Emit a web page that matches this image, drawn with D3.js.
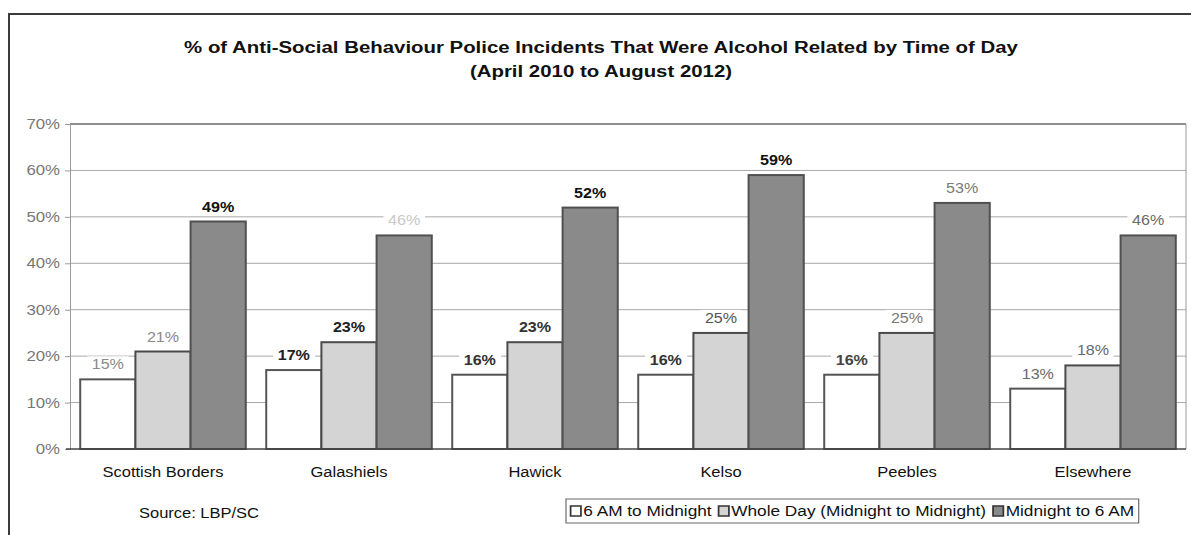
<!DOCTYPE html>
<html>
<head>
<meta charset="utf-8">
<script src="https://cdn.jsdelivr.net/npm/d3@7"></script>
<style>
    body { margin: 0; background: #ffffff; }
    svg { display: block; font-family: "Liberation Sans", Arial, sans-serif; }
</style>
</head>
<body>
<svg id="chart"></svg>
<script>
// values (percent)
const categories = ["Scottish Borders", "Galashiels", "Hawick", "Kelso", "Peebles", "Elsewhere"];
const seriesNames = ["6 AM to Midnight", "Whole Day (Midnight to Midnight)", "Midnight to 6 AM"];
const dayValues = [15, 17, 16, 16, 16, 13];
const wholeDayValues = [21, 23, 23, 25, 25, 18];
const nightValues = [49, 46, 52, 59, 53, 46];
const yTickValues = [0, 10, 20, 30, 40, 50, 60, 70];

const titleLines = [
    "% of Anti-Social Behaviour Police Incidents That Were Alcohol Related by Time of Day",
    "(April 2010 to August 2012)"
];
const sourceText = "Source: LBP/SC";

// styling
const width = 1191;
const height = 535;
const plot = { left: 70, right: 1186, top: 124, bottom: 449 };
const barFills = ["#ffffff", "#d4d4d4", "#8a8a8a"];
const barStrokes = ["#555555", "#4a4a4a", "#505050"];
// the scanned text is wider than the font, so it gets a horizontal stretch
const stretch = 1.15;
// the scanned labels come in different shades
const labelShades = [
    ["#8a8a8a", "#8a8a8a", "#111111"],
    ["#222222", "#222222", "#c8c8c8"],
    ["#333333", "#333333", "#111111"],
    ["#333333", "#555555", "#111111"],
    ["#444444", "#7a7a7a", "#7a7a7a"],
    ["#6a6a6a", "#6a6a6a", "#6a6a6a"]
];

const svg = d3.select("#chart")
    .attr("width", width)
    .attr("height", height);

const x = d3.scaleBand()
    .domain(categories)
    .range([plot.left, plot.right])
    .paddingInner(0.11)
    .paddingOuter(0.055);

const xInner = d3.scaleBand()
    .domain(d3.range(seriesNames.length))
    .range([0, x.bandwidth()]);

const y = d3.scaleLinear()
    .domain([0, 70])
    .range([plot.bottom, plot.top]);

const rows = categories.map((c, i) => ({
    category: c,
    values: [dayValues[i], wholeDayValues[i], nightValues[i]]
}));

function wideText(parent, px, py, sx) {
    return parent.append("text")
        .attr("transform", `translate(${px},${py}) scale(${sx},1)`);
}

// outer frame
svg.append("path")
    .attr("d", `M9,${height} L9,14 L${width},14`)
    .attr("fill", "none")
    .attr("stroke", "#3a3a3a")
    .attr("stroke-width", 2);

// title
titleLines.forEach((line, i) => {
    wideText(svg, 601, 53 + i * 24, 1.2)
        .attr("text-anchor", "middle")
        .style("font-size", "17px")
        .style("font-weight", "bold")
        .attr("fill", "#111")
        .text(line);
});

// gridlines
svg.append("g")
    .selectAll("line")
    .data(yTickValues.filter(v => v > 0))
    .enter()
    .append("line")
    .attr("x1", plot.left)
    .attr("x2", plot.right)
    .attr("y1", d => y(d))
    .attr("y2", d => y(d))
    .attr("stroke", d => d === 70 ? "#6a6a6a" : "#a8a8a8")
    .attr("stroke-width", d => d === 70 ? 1.5 : 1);

// plot right border
svg.append("line")
    .attr("x1", plot.right).attr("x2", plot.right)
    .attr("y1", plot.top).attr("y2", plot.bottom)
    .attr("stroke", "#9a9a9a");

// y axis
const yAxis = svg.append("g")
    .attr("transform", `translate(${plot.left},0)`)
    .call(d3.axisLeft(y)
        .tickValues(yTickValues)
        .tickFormat(d => d + "%")
        .tickSize(5)
        .tickPadding(9));

yAxis.select(".domain").attr("stroke", "#9a9a9a");
yAxis.selectAll(".tick line").attr("stroke", "#9a9a9a");
yAxis.selectAll(".tick text")
    .attr("x", -10 / 1.2)
    .attr("transform", "scale(1.2,1)")
    .attr("fill", "#777")
    .style("font-size", "14px")
    .style("font-family", "\"Liberation Sans\", Arial, sans-serif");

// bars
const groups = svg.append("g")
    .selectAll(".group")
    .data(rows)
    .enter()
    .append("g")
    .attr("class", "group")
    .attr("transform", d => `translate(${x(d.category)},0)`);

groups.selectAll("rect")
    .data(d => d.values)
    .enter()
    .append("rect")
    .attr("x", (d, i) => xInner(i))
    .attr("y", d => y(d))
    .attr("width", xInner.bandwidth())
    .attr("height", d => y(0) - y(d))
    .attr("fill", (d, i) => barFills[i])
    .attr("stroke", (d, i) => barStrokes[i])
    .attr("stroke-width", 2);

// x axis line
svg.append("line")
    .attr("x1", plot.left - 4)
    .attr("x2", plot.right)
    .attr("y1", plot.bottom)
    .attr("y2", plot.bottom)
    .attr("stroke", "#444")
    .attr("stroke-width", 1.5);

// value labels with white backing that breaks the gridlines
rows.forEach((row, ci) => {
    row.values.forEach((v, si) => {
        const cx = x(row.category) + xInner(si) + xInner.bandwidth() / 2;
        const shade = labelShades[ci][si];
        const g = svg.append("g")
            .attr("transform", `translate(${cx},${y(v) - 10}) scale(${stretch},1)`);
        const bg = g.append("rect").attr("fill", "#ffffff");
        const t = g.append("text")
            .attr("text-anchor", "middle")
            .style("font-size", "14px")
            .style("font-weight", parseInt(shade.slice(1, 3), 16) < 0x50 ? "bold" : "normal")
            .attr("fill", shade)
            .text(v + "%");
        const b = t.node().getBBox();
        bg.attr("x", b.x - 4)
            .attr("y", b.y)
            .attr("width", b.width + 8)
            .attr("height", b.height);
    });
});

// category labels
categories.forEach(c => {
    wideText(svg, x(c) + x.bandwidth() / 2, 477, 1.1)
        .attr("text-anchor", "middle")
        .style("font-size", "15px")
        .attr("fill", "#111")
        .text(c);
});

// source
wideText(svg, 199, 518, 1.1)
    .attr("text-anchor", "middle")
    .style("font-size", "15px")
    .attr("fill", "#111")
    .text(sourceText);

// legend
const legend = svg.append("g")
    .attr("transform", "translate(566,499) scale(1.15,1)");

const legendBox = legend.append("rect")
    .attr("x", 0)
    .attr("y", 0)
    .attr("height", 24)
    .attr("fill", "#fff")
    .attr("stroke", "#666")
    .attr("stroke-width", 1);

let lx = 4;
seriesNames.forEach((name, i) => {
    legend.append("rect")
        .attr("x", lx)
        .attr("y", 7)
        .attr("width", 9)
        .attr("height", 10)
        .attr("fill", barFills[i])
        .attr("stroke", "#333")
        .attr("stroke-width", 1.5);
    const t = legend.append("text")
        .attr("x", lx + 11)
        .attr("y", 17.5)
        .style("font-size", "15px")
        .attr("fill", "#111")
        .text(name);
    lx += 11 + t.node().getComputedTextLength() + 6;
});
legendBox.attr("width", lx - 2);
</script>
</body>
</html>
